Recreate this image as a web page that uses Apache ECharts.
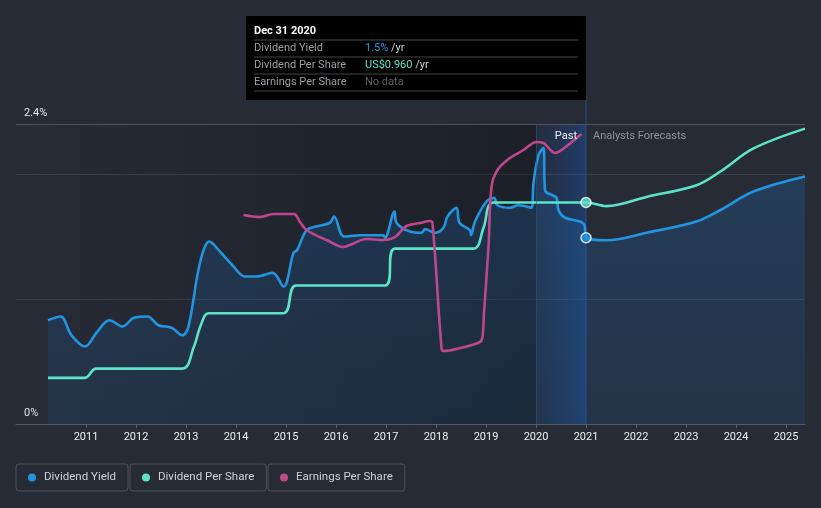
<!DOCTYPE html>
<html><head><meta charset="utf-8">
<script src="https://cdn.jsdelivr.net/npm/echarts@6/dist/echarts.min.js"></script>
<style>html,body{margin:0;padding:0;background:#262b36;}#c{width:821px;height:508px;}</style>
</head><body><div id="c"></div>
<script>
// ---- data ----
const yearTicks = [2011,2012,2013,2014,2015,2016,2017,2018,2019,2020,2021,2022,2023,2024,2025];
const yAxisLabels = [0, 2.4];
const forecastStart = 2021;
const pastBandStart = 2020;

// Dividend Yield (%), [year, value]
const dividendYield = [
  [2010.24,0.83],[2010.49,0.86],[2010.71,0.71],[2010.98,0.62],[2011.21,0.73],[2011.47,0.83],
  [2011.73,0.78],[2011.96,0.85],[2012.23,0.86],[2012.45,0.79],[2012.71,0.77],[2012.93,0.71],
  [2013.05,0.78],[2013.28,1.29],[2013.47,1.46],[2013.7,1.37],[2013.95,1.26],[2014.18,1.18],
  [2014.41,1.18],[2014.73,1.21],[2014.95,1.10],[2015.15,1.37],[2015.22,1.39],[2015.41,1.55],
  [2015.6,1.58],[2015.88,1.61],[2015.96,1.66],[2016.16,1.50],[2016.5,1.51],[2016.95,1.51],
  [2016.98,1.49],[2017.17,1.70],[2017.21,1.61],[2017.48,1.54],[2017.71,1.53],[2017.78,1.56],
  [2017.98,1.53],[2018.15,1.57],[2018.23,1.66],[2018.41,1.73],[2018.47,1.61],[2018.68,1.55],
  [2018.7,1.51],[2018.78,1.62],[2019.01,1.78],[2019.16,1.81],[2019.23,1.75],[2019.48,1.73],
  [2019.65,1.75],[2019.91,1.73],[2019.95,1.93],[2020.05,2.15],[2020.15,2.21],[2020.18,1.87],
  [2020.41,1.81],[2020.45,1.71],[2020.58,1.65],[2020.88,1.62],[2020.97,1.59],[2021.0,1.49],
  [2021.41,1.47],[2022.21,1.53],[2023.21,1.62],[2023.68,1.71],[2024.35,1.86],[2025.38,1.98]
];

// Dividend Per Share (US$), [year, value]
const dividendPerShare = [
  [2010.24,0.20],[2010.98,0.20],[2011.2,0.24],[2012.93,0.24],[2013.15,0.33],[2013.3,0.43],
  [2013.45,0.48],[2014.95,0.48],[2015.2,0.60],[2016.98,0.60],[2017.18,0.76],[2018.75,0.76],
  [2018.95,0.85],[2019.15,0.96],[2021.0,0.96],
  [2021.41,0.944],[2022.21,0.984],[2023.21,1.035],[2023.68,1.093],[2024.35,1.194],[2025.38,1.28]
];

// Earnings Per Share (relative scale), [year, value]
const earningsPerShare = [
  [2014.15,2.09],[2014.48,2.07],[2014.75,2.10],[2015.16,2.10],[2015.28,2.02],[2015.41,1.94],
  [2015.81,1.84],[2016.15,1.77],[2016.28,1.79],[2016.61,1.85],[2016.95,1.84],[2017.18,1.87],
  [2017.41,1.98],[2017.68,2.01],[2017.88,2.03],[2017.93,2.01],[2018.11,0.76],[2018.15,0.73],
  [2018.41,0.75],[2018.88,0.82],[2018.93,0.87],[2018.96,1.11],[2019.05,1.77],[2019.11,2.37],
  [2019.23,2.54],[2019.48,2.66],[2019.75,2.74],[2020.01,2.82],[2020.15,2.81],[2020.38,2.71],
  [2020.51,2.74],[2020.91,2.90]
];

// ---- styles ----
const C_YIELD = '#2394df', C_DPS = '#5ee3c9', C_EPS = '#c0478b';
const FONT = 'Roboto, "Noto Sans", sans-serif';
const SMOOTH = 0.35;

const yieldAt = dividendYield.find(p => p[0] === forecastStart);
const dpsAt = dividendPerShare.find(p => p[0] === forecastStart);

const chart = echarts.init(document.getElementById('c'), null, {renderer:'canvas'});

function legendBox(name, left) {
  return {
    data:[name], left:left, top:464, orient:'horizontal',
    itemWidth:8, itemHeight:8, icon:'circle',
    padding:[7,12,7,12], borderColor:'#4c515c', borderWidth:1, borderRadius:3,
    textStyle:{color:'#cfd2d8', fontSize:11.5, fontFamily:FONT, padding:[0,0,0,3], lineHeight:13},
    selectedMode:false
  };
}

chart.setOption({
  animation:false,
  backgroundColor:'#262b36',
  grid:{left:16, right:16, top:124, bottom:84},
  legend:[legendBox('Dividend Yield',16), legendBox('Dividend Per Share',130), legendBox('Earnings Per Share',268)],
  xAxis:{
    type:'value', min:2009.6, max:2025.38,
    axisLine:{lineStyle:{color:'#555b66', width:1}},
    axisTick:{customValues:yearTicks, length:4, lineStyle:{color:'#555b66'}},
    axisLabel:{customValues:yearTicks, color:'#eceef1', fontSize:11, fontFamily:FONT, margin:8,
               formatter: v => String(Math.round(v))},
    splitLine:{show:false}
  },
  yAxis:[
    {type:'value', min:0, max:2.4, interval:1,
     axisLine:{show:false}, axisTick:{show:false},
     axisLabel:{customValues:yAxisLabels, inside:true, margin:8, color:'#e4e6ea', fontSize:11, fontFamily:FONT,
                verticalAlign:'bottom', padding:[0,0,5,0], formatter: v => v + '%'},
     splitLine:{show:true, lineStyle:{color:'#3b404b', width:1}}},
    {type:'value', min:0, max:1.3, show:false},
    {type:'value', min:0, max:3, show:false}
  ],
  series:[
    {
      name:'bands', type:'line', data:[[2009.6,0]], symbol:'none', silent:true,
      lineStyle:{opacity:0}, z:1,
      markArea:{silent:true, data:[
        [{xAxis:2009.6, itemStyle:{color:{type:'linear',x:0,y:0,x2:1,y2:0,colorStops:[
          {offset:0,color:'rgba(0,0,0,0)'},{offset:1,color:'rgba(0,0,0,0.28)'}]}}},{xAxis:pastBandStart}],
        [{xAxis:pastBandStart, itemStyle:{color:{type:'linear',x:0,y:0,x2:1,y2:0,colorStops:[
          {offset:0,color:'rgba(20,70,150,0.08)'},{offset:1,color:'rgba(25,85,175,0.42)'}]}}},{xAxis:forecastStart}]
      ]},
      markLine:{silent:true, symbol:'none', label:{show:false}, data:[
        {xAxis:pastBandStart, lineStyle:{color:'rgba(50,80,130,0.55)', width:1, type:'solid'}},
        {yAxis:2.4, lineStyle:{color:'#50555f', width:1, type:'solid'}}
      ]}
    },
    {
      name:'Dividend Yield', type:'line', data:dividendYield, yAxisIndex:0,
      smooth:SMOOTH, symbol:'none', z:3,
      itemStyle:{color:C_YIELD},
      lineStyle:{color:C_YIELD, width:2.6},
      areaStyle:{color:{type:'linear',x:0,y:0,x2:0,y2:1,colorStops:[
        {offset:0,color:'rgba(30,110,185,0.40)'},{offset:1,color:'rgba(30,100,170,0.22)'}]}}
    },
    {
      name:'Dividend Per Share', type:'line', data:dividendPerShare, yAxisIndex:1,
      smooth:SMOOTH, symbol:'none', z:4,
      itemStyle:{color:C_DPS},
      lineStyle:{color:C_DPS, width:2.6}
    },
    {
      name:'Earnings Per Share', type:'line', data:earningsPerShare, yAxisIndex:2,
      smooth:SMOOTH, symbol:'none', z:5,
      itemStyle:{color:C_EPS},
      lineStyle:{color:C_EPS, width:2.6}
    },
    {
      name:'yieldMark', type:'scatter', data:[yieldAt], yAxisIndex:0, z:6, silent:true,
      symbolSize:10, itemStyle:{color:C_YIELD, borderColor:'#ffffff', borderWidth:1.5}
    },
    {
      name:'dpsMark', type:'scatter', data:[dpsAt], yAxisIndex:1, z:6, silent:true,
      symbolSize:10, itemStyle:{color:C_DPS, borderColor:'#ffffff', borderWidth:1.5}
    }
  ]
});

// overlay: tooltip box and past/forecast labels, anchored at the forecast start
const xF = chart.convertToPixel({xAxisIndex:0}, forecastStart);
const yTop = chart.convertToPixel({yAxisIndex:0}, 2.4);
const yBot = chart.convertToPixel({yAxisIndex:0}, 0);
const boxW = 340, boxTop = 16, boxH = 84;
const bx = xF - boxW;
const tx = bx + 8, vx = bx + 119;
const sepColor = '#474747';
const rowFont = {fontSize:11, fontFamily:FONT, verticalAlign:'middle'};
chart.setOption({
  graphic:[
    {type:'line', shape:{x1:xF, y1:boxTop+boxH, x2:xF, y2:yBot}, style:{stroke:'#2d4d80', lineWidth:1}, z:2, silent:true},
    {type:'rect', shape:{x:bx, y:boxTop, width:boxW, height:boxH}, style:{fill:'#000000'}, z:10, silent:true},
    {type:'text', z:11, style:Object.assign({text:'Dec 31 2020', x:tx, y:boxTop+15, fill:'#ffffff', fontWeight:'bold'}, rowFont)},
    {type:'line', z:11, shape:{x1:tx, y1:boxTop+24, x2:xF-8, y2:boxTop+24}, style:{stroke:sepColor, lineWidth:1}},
    {type:'text', z:11, style:Object.assign({text:'Dividend Yield', x:tx, y:boxTop+32, fill:'#9b9ea4'}, rowFont)},
    {type:'text', z:11, style:Object.assign({text:'{v|' + yieldAt[1].toFixed(1) + '%} {u|/yr}', x:vx, y:boxTop+32,
      rich:{v:{fill:C_YIELD, fontSize:11, fontFamily:FONT}, u:{fill:'#cfd1d5', fontSize:11, fontFamily:FONT}}}, rowFont)},
    {type:'line', z:11, shape:{x1:tx, y1:boxTop+41, x2:xF-8, y2:boxTop+41}, style:{stroke:sepColor, lineWidth:1}},
    {type:'text', z:11, style:Object.assign({text:'Dividend Per Share', x:tx, y:boxTop+49, fill:'#9b9ea4'}, rowFont)},
    {type:'text', z:11, style:Object.assign({text:'{v|US$' + dpsAt[1].toFixed(3) + '} {u|/yr}', x:vx, y:boxTop+49,
      rich:{v:{fill:C_DPS, fontSize:11, fontFamily:FONT}, u:{fill:'#cfd1d5', fontSize:11, fontFamily:FONT}}}, rowFont)},
    {type:'line', z:11, shape:{x1:tx, y1:boxTop+58, x2:xF-8, y2:boxTop+58}, style:{stroke:sepColor, lineWidth:1}},
    {type:'text', z:11, style:Object.assign({text:'Earnings Per Share', x:tx, y:boxTop+66, fill:'#9b9ea4'}, rowFont)},
    {type:'text', z:11, style:Object.assign({text:'No data', x:vx, y:boxTop+66, fill:'#5d6066'}, rowFont)},
    {type:'line', z:11, shape:{x1:tx, y1:boxTop+75, x2:xF-8, y2:boxTop+75}, style:{stroke:sepColor, lineWidth:1}},
    {type:'text', z:11, silent:true, style:Object.assign({text:'Past', x:xF-9, y:yTop+12, fill:'#f2f2f2', align:'right'}, rowFont)},
    {type:'text', z:11, silent:true, style:Object.assign({text:'Analysts Forecasts', x:xF+7, y:yTop+12, fill:'#8e939c'}, rowFont)}
  ]
});
</script>
</body></html>
